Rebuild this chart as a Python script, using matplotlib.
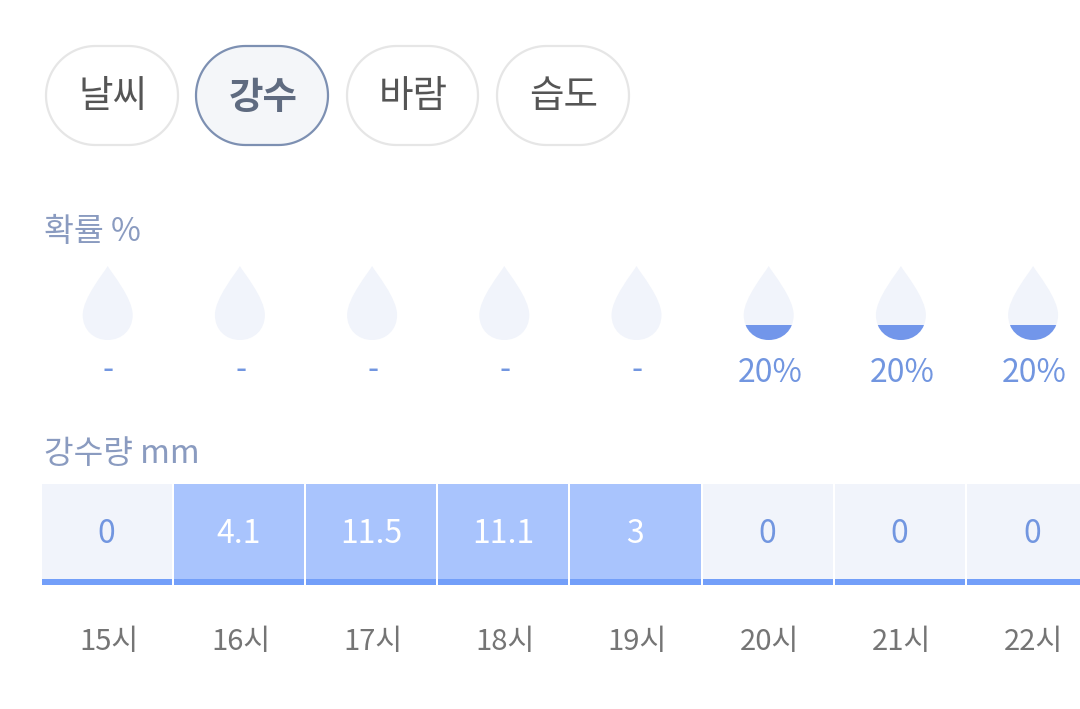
import numpy as np
import matplotlib.pyplot as plt
from matplotlib.patches import Polygon, PathPatch, Rectangle
from matplotlib.path import Path

plt.rcParams['font.family'] = ['Noto Sans CJK KR', 'DejaVu Sans']

tabs = ['날씨', '강수', '바람', '습도']
hours = ['15시', '16시', '17시', '18시', '19시', '20시', '21시', '22시']
chance = [0, 0, 0, 0, 0, 20, 20, 20]
chance_labels = ['-', '-', '-', '-', '-', '20%', '20%', '20%']
rain = [0, 4.1, 11.5, 11.1, 3, 0, 0, 0]
rain_labels = ['0', '4.1', '11.5', '11.1', '3', '0', '0', '0']

step = 132.2
first_x = 106.7
drop_top, drop_bottom = 266, 340

fig = plt.figure(figsize=(10.8, 7.09), dpi=100)
ax = fig.add_axes([0, 0, 1, 1])
ax.set_xlim(0, 1080)
ax.set_ylim(709, 0)
ax.axis('off')


def pill_outline(left, width, top=46, height=99):
    # stadium shape, round ends made of half circles
    r = height / 2
    a = np.linspace(-np.pi / 2, np.pi / 2, 60)
    right_end = np.column_stack([left + width - r + r * np.cos(a), top + r + r * np.sin(a)])
    left_end = np.column_stack([left + r - r * np.cos(a), top + r - r * np.sin(a)])
    return np.vstack([right_end, left_end])


# tab buttons
tab_left = [46, 196, 347, 497]
tab_width = [132, 132, 131, 132]
for i, name in enumerate(tabs):
    active = i == 1
    ax.add_patch(Polygon(pill_outline(tab_left[i], tab_width[i]), closed=True,
                         fc='#f4f6f9' if active else 'white',
                         ec='#7d90b2' if active else '#e6e6e6', lw=1.6))
    ax.text(tab_left[i] + tab_width[i] / 2 + (1.5 if active else 0.5), 97, name,
            ha='center', va='center', fontsize=27,
            color='#5f6b80' if active else '#555555',
            fontweight='bold' if active else 'normal')

ax.text(44, 232, '확률 %', ha='left', va='center', fontsize=23.4, color='#8a9bc0')
ax.text(44, 454, '강수량 mm', ha='left', va='center', fontsize=23.2, color='#8a9bc0')


def drop_path(cx):
    # teardrop outline, 50px wide
    t, b = drop_top, drop_bottom
    verts = [(cx, t),
             (cx + 4, t + 7), (cx + 25, t + 32), (cx + 25, t + 49),
             (cx + 25, t + 64), (cx + 14, b), (cx, b),
             (cx - 14, b), (cx - 25, t + 64), (cx - 25, t + 49),
             (cx - 25, t + 32), (cx - 4, t + 7), (cx, t),
             (cx, t)]
    codes = [Path.MOVETO] + [Path.CURVE4] * 12 + [Path.CLOSEPOLY]
    return Path(verts, codes)


for i, val in enumerate(chance):
    cx = first_x + 1 + step * i
    drop = PathPatch(drop_path(cx), fc='#f1f4fb', ec='none')
    ax.add_patch(drop)
    if val > 0:
        h = (drop_bottom - drop_top) * val / 100
        fill = Rectangle((cx - 26, drop_bottom - h), 52, h, fc='#7296ea', ec='none')
        ax.add_patch(fill)
        fill.set_clip_path(drop.get_path(), ax.transData)
        ax.text(cx + 1.3, 373, chance_labels[i], ha='center', va='center',
                fontsize=23, color='#7296e0')
    else:
        ax.text(cx + 0.8, 370, chance_labels[i], ha='center', va='center',
                fontsize=23, color='#7296e0')

# rainfall cells
centers = [first_x + step * i for i in range(len(rain))]
colors = ['#a9c4fd' if r > 0 else '#f1f4fb' for r in rain]
ax.bar(centers, [95] * len(rain), width=step - 2, bottom=484, color=colors)
ax.bar(centers, [6] * len(rain), width=step - 2, bottom=579, color='#739ff9')
for i, r in enumerate(rain):
    ax.text(centers[i] - 0.2, 534, rain_labels[i], ha='center', va='center', fontsize=23,
            color='white' if r > 0 else '#7296e0')
    ax.text(centers[i] + 1.8, 642, hours[i], ha='center', va='center', fontsize=21,
            color='#757575')

fig.savefig('out.png', dpi=100)
